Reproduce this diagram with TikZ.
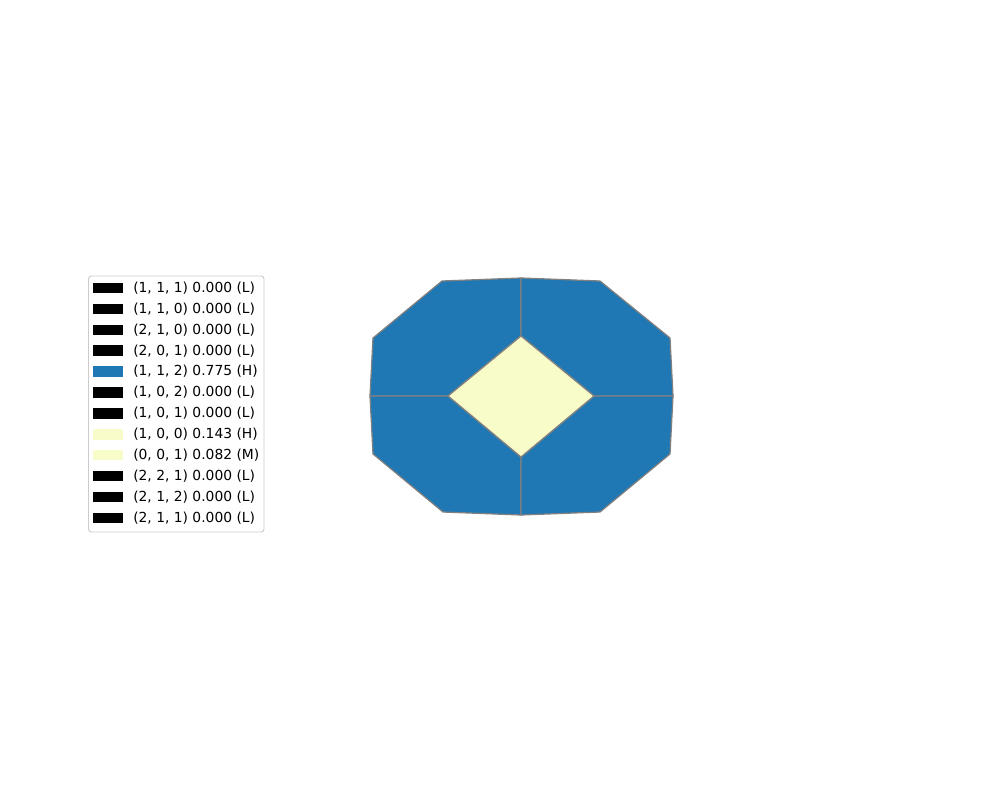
\documentclass[tikz,border=0pt]{standalone}
\usepackage{fontspec}
\setmainfont{DejaVu Sans}
\usepackage{tikz}
\definecolor{hiblue}{HTML}{1F77B4}
\definecolor{loyellow}{HTML}{F7FCC8}
\definecolor{edgegray}{HTML}{808080}
\definecolor{framegray}{HTML}{CCCCCC}
\tikzstyle{face}=[draw=edgegray,line width=0.9pt,line join=round]
\tikzstyle{patch}=[rectangle,inner sep=0pt,minimum width=0.29in,
                   minimum height=0.105in]
\tikzstyle{entry}=[anchor=west,inner sep=0pt,font=\fontsize{10}{12}\selectfont]

\begin{document}
\begin{tikzpicture}[x=0.01in,y=-0.01in]
    \useasboundingbox (0,0) rectangle (1000,800);
    % outer ring
    \coordinate (tm) at (521,278);
    \coordinate (tl) at (442,281);
    \coordinate (lu) at (373,338);
    \coordinate (lm) at (370,396);
    \coordinate (ll) at (373,454);
    \coordinate (bl) at (443,512);
    \coordinate (bm) at (521,515);
    \coordinate (br) at (600,512);
    \coordinate (rl) at (670,454);
    \coordinate (rm) at (673,396);
    \coordinate (ru) at (670,338);
    \coordinate (tr) at (600,281);
    % inner diamond
    \coordinate (dt) at (521,336);
    \coordinate (dl) at (448,396);
    \coordinate (dr) at (594,396);
    \coordinate (db) at (521,457);
    \filldraw[face,fill=hiblue] (tm) -- (tl) -- (lu) -- (lm) -- (dl) -- (dt) -- cycle;
    \filldraw[face,fill=hiblue] (tm) -- (tr) -- (ru) -- (rm) -- (dr) -- (dt) -- cycle;
    \filldraw[face,fill=hiblue] (lm) -- (ll) -- (bl) -- (bm) -- (db) -- (dl) -- cycle;
    \filldraw[face,fill=hiblue] (rm) -- (rl) -- (br) -- (bm) -- (db) -- (dr) -- cycle;
    \filldraw[face,fill=loyellow] (dt) -- (dl) -- (db) -- (dr) -- cycle;
    % legend
    \draw[framegray,line width=0.7pt,rounded corners=2pt] (88.5,276) rectangle (264,532);
    \node (p1)  at (108,288.0) [patch,fill=black]{};
    \node (p2)  at (108,308.9) [patch,fill=black]{};
    \node (p3)  at (108,329.8) [patch,fill=black]{};
    \node (p4)  at (108,350.7) [patch,fill=black]{};
    \node (p5)  at (108,371.6) [patch,fill=hiblue]{};
    \node (p6)  at (108,392.5) [patch,fill=black]{};
    \node (p7)  at (108,413.4) [patch,fill=black]{};
    \node (p8)  at (108,434.3) [patch,fill=loyellow]{};
    \node (p9)  at (108,455.2) [patch,fill=loyellow]{};
    \node (p10) at (108,476.1) [patch,fill=black]{};
    \node (p11) at (108,497.0) [patch,fill=black]{};
    \node (p12) at (108,517.9) [patch,fill=black]{};
    \node (t1)  at (133,288.0) [entry]{(1, 1, 1) 0.000 (L)};
    \node (t2)  at (133,308.9) [entry]{(1, 1, 0) 0.000 (L)};
    \node (t3)  at (133,329.8) [entry]{(2, 1, 0) 0.000 (L)};
    \node (t4)  at (133,350.7) [entry]{(2, 0, 1) 0.000 (L)};
    \node (t5)  at (133,371.6) [entry]{(1, 1, 2) 0.775 (H)};
    \node (t6)  at (133,392.5) [entry]{(1, 0, 2) 0.000 (L)};
    \node (t7)  at (133,413.4) [entry]{(1, 0, 1) 0.000 (L)};
    \node (t8)  at (133,434.3) [entry]{(1, 0, 0) 0.143 (H)};
    \node (t9)  at (133,455.2) [entry]{(0, 0, 1) 0.082 (M)};
    \node (t10) at (133,476.1) [entry]{(2, 2, 1) 0.000 (L)};
    \node (t11) at (133,497.0) [entry]{(2, 1, 2) 0.000 (L)};
    \node (t12) at (133,517.9) [entry]{(2, 1, 1) 0.000 (L)};
\end{tikzpicture}
\end{document}
